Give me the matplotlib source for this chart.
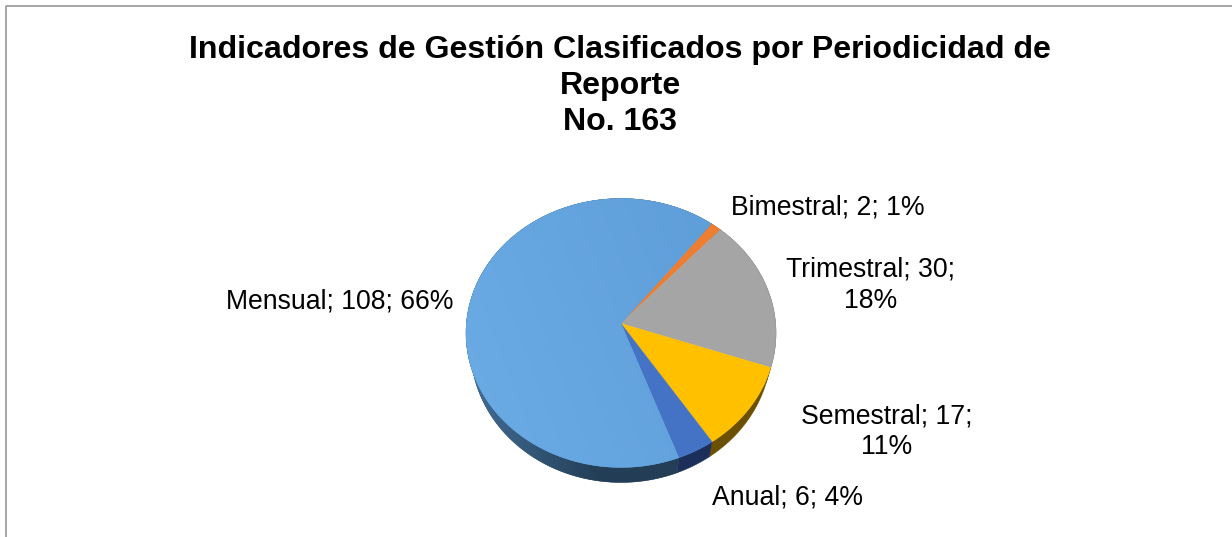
import matplotlib
matplotlib.use('Agg')
import matplotlib.pyplot as plt
import numpy as np
from matplotlib.patches import Polygon

categories = ['Bimestral', 'Trimestral', 'Semestral', 'Anual', 'Mensual']
values = [2, 30, 17, 6, 108]
percents = [1, 18, 11, 4, 66]
top_colors = ['#ed7d31', '#a5a5a5', '#ffc000', '#4472c4', '#5b9bd5']
side_colors = ['#7a4016', '#555555', '#6b5000', '#1c2f5a', '#243f58']

title = 'Indicadores de Gestión Clasificados por Periodicidad de\nReporte\nNo. 163'

# pixel positions of the labels, (x, y, ha), wrapped ones get a line break
label_pos = [(731, 207, 'left'), (870.5, 285, 'center'), (887, 432, 'center'),
             (712, 497.5, 'left'), (453, 301.5, 'right')]
wrapped = ['Trimestral', 'Semestral']

# tilted disc, fitted on the picture
cx, cy = 621.0, 323.5
sx, sy = 154.6, 133.8
persp = 0.0706
depth = 15
low_scale = 0.97


def project(theta):
    x = np.cos(theta)
    y = np.sin(theta)
    k = 1 + persp * y
    return cx + sx * x / k, cy - sy * y / k


def arc_points(t1, t2):
    t = np.radians(np.linspace(t1, t2, 200))
    return np.column_stack(project(t))


fig = plt.figure(figsize=(12.32, 5.37), dpi=100, facecolor='white')
ax = fig.add_axes([0, 0, 1, 1])

wedges, _ = ax.pie(values, startangle=51.9, counterclock=False, frame=True)
angles = [(w.theta1, w.theta2) for w in wedges]
for w in wedges:
    w.remove()

ax.set_aspect('auto')
ax.set_xlim(0, 1232)
ax.set_ylim(537, 0)
ax.axis('off')

# side of the disc first
for (t1, t2), col in zip(angles, side_colors):
    arc = arc_points(t1, t2)
    low = arc[::-1].copy()
    low[:, 0] = cx + (low[:, 0] - cx) * low_scale
    low[:, 1] += depth
    band = Polygon(np.vstack([arc, low]), closed=True, fc=col, ec=col, lw=0.3, zorder=2)
    ax.add_patch(band)
    if col == side_colors[4]:
        grad = np.clip((np.linspace(465, 780, 256) - 470) / 130, 0, 1)[None, :]
        rgb = np.zeros((1, 256, 3))
        for i, (a, b) in enumerate(zip((0x42, 0x6d, 0x96), (0x23, 0x3e, 0x56))):
            rgb[..., i] = (a + (b - a) * grad) / 255
        im = ax.imshow(rgb, extent=[465, 780, 490, 320], aspect='auto', zorder=2)
        im.set_clip_path(band)

# top of the disc
for (t1, t2), col in zip(angles, top_colors):
    pts = np.vstack([[[cx, cy]], arc_points(t1, t2)])
    top = Polygon(pts, closed=True, fc=col, ec=col, lw=0.3, zorder=3)
    ax.add_patch(top)
    if col == top_colors[4]:
        # soft light on the big slice
        xx, yy = np.meshgrid(np.linspace(0, 1, 128), np.linspace(0, 1, 128))
        g = np.clip((1 - xx) * 0.75 + yy * 0.25, 0, 1)[..., None]
        rgb = (np.array([0x5c, 0x9b, 0xd5]) + (np.array([0x6c, 0xac, 0xe6]) - np.array([0x5c, 0x9b, 0xd5])) * g) / 255
        im = ax.imshow(rgb, extent=[465, 780, 470, 195], aspect='auto', zorder=3)
        im.set_clip_path(top)

ax.set_xlim(0, 1232)
ax.set_ylim(537, 0)

font = 'Liberation Sans'
ax.text(620, 86, title, ha='center', va='center', fontsize=23.1, fontweight='bold',
        family=font, linespacing=1.25, color='black', zorder=5)

for cat, val, pct, (x, y, ha) in zip(categories, values, percents, label_pos):
    if cat in wrapped:
        txt = f'{cat}; {val};\n{pct}%'
    else:
        txt = f'{cat}; {val}; {pct}%'
    ax.text(x, y, txt, ha=ha, va='center', multialignment='center', fontsize=19.15,
            family=font, linespacing=1.25, color='black', zorder=5)

# chart frame, only top and left are inside the crop
ax.plot([5.5, 5.5, 1232], [537, 5.5, 5.5], color='#a6a6a6', lw=1.4, zorder=4, clip_on=False)

fig.savefig('out.png', dpi=100, facecolor='white')
